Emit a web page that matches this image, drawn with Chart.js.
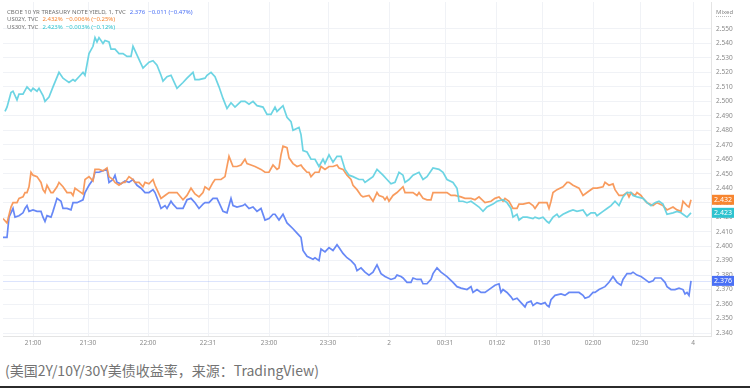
<!DOCTYPE html>
<html>
<head>
<meta charset="utf-8">
<script src="https://cdn.jsdelivr.net/npm/chart.js@4.4.1/dist/chart.umd.min.js"></script>
<style>
  html, body { margin: 0; padding: 0; background: #fff; }
  body { width: 750px; height: 388px; position: relative; overflow: hidden; }
  #wrap { position: absolute; left: 0; top: 0; width: 750px; height: 352px; }
  #caption { position: absolute; left: 5px; top: 360px; font: 14px "Noto Sans CJK SC", sans-serif; color: #737373; white-space: nowrap; line-height: 20px; }
  #bottomLine { position: absolute; left: 0; top: 386px; width: 750px; height: 2px; background: #2b2b2b; }
</style>
</head>
<body>
<div id="wrap"><canvas id="yieldChart" width="750" height="352"></canvas></div>
<div id="caption">(美国2Y/10Y/30Y美债收益率，来源：TradingView)</div>
<div id="bottomLine"></div>
<script>
// 横軸: 1分足のバー番号, 目盛り
const xTickBars = [15, 42.5, 72.5, 102.5, 133, 162.5, 193, 221, 247, 269.5, 295, 318.5, 345];
const xTickLabels = ['21:00', '21:30', '22:00', '22:31', '23:00', '23:30', '2', '00:31', '01:02', '01:30', '02:00', '02:30', '4'];
const yTicks = [2.34, 2.35, 2.36, 2.37, 2.38, 2.39, 2.40, 2.41, 2.42, 2.43, 2.44, 2.45, 2.46, 2.47, 2.48, 2.49, 2.50, 2.51, 2.52, 2.53, 2.54, 2.55];

// US10Y (CBOE 10 YR)
const us10Bars = [0,2,3,5,6,8,10,11,12,13,15,17,19,20,21,22,24,25,27,29,30,32,34,35,37,40,41,43,45,46,48,50,52,53,55,56,57,59,61,63,65,67,69,71,73,75,76,78,79,81,82,84,85,87,89,90,92,94,96,98,100,101,103,105,107,108,110,112,114,115,117,120,121,123,125,127,129,131,133,135,136,138,140,142,145,147,149,150,152,155,156,158,159,161,163,165,167,168,170,172,174,176,177,179,181,183,185,187,189,191,194,196,197,199,200,202,204,205,207,209,210,212,214,215,217,219,220,222,225,227,229,232,234,235,237,239,241,244,246,248,249,250,252,254,255,257,259,261,262,264,265,267,269,271,272,273,274,276,279,281,283,285,288,290,291,293,295,296,298,301,303,305,307,309,310,312,314,315,317,319,321,323,325,326,329,331,332,334,336,338,340,341,342,343,344];
const us10Vals = [2.406,2.406,2.420,2.426,2.420,2.421,2.423,2.426,2.428,2.424,2.425,2.424,2.424,2.420,2.417,2.421,2.420,2.424,2.433,2.431,2.426,2.426,2.425,2.430,2.430,2.432,2.437,2.442,2.446,2.451,2.451,2.452,2.453,2.444,2.446,2.449,2.444,2.443,2.445,2.444,2.446,2.442,2.440,2.437,2.437,2.439,2.437,2.430,2.426,2.428,2.426,2.431,2.429,2.426,2.426,2.426,2.432,2.433,2.430,2.426,2.429,2.430,2.430,2.433,2.433,2.430,2.424,2.423,2.433,2.428,2.427,2.428,2.429,2.426,2.427,2.424,2.426,2.418,2.419,2.422,2.422,2.418,2.422,2.416,2.412,2.409,2.406,2.397,2.393,2.391,2.392,2.390,2.398,2.396,2.399,2.397,2.401,2.399,2.395,2.392,2.390,2.387,2.383,2.385,2.382,2.380,2.382,2.387,2.381,2.379,2.377,2.378,2.380,2.379,2.378,2.375,2.375,2.378,2.377,2.377,2.374,2.374,2.377,2.381,2.385,2.382,2.381,2.379,2.375,2.372,2.371,2.370,2.372,2.368,2.370,2.368,2.368,2.371,2.373,2.374,2.368,2.370,2.368,2.365,2.363,2.364,2.361,2.358,2.361,2.362,2.359,2.361,2.360,2.361,2.359,2.358,2.363,2.366,2.367,2.366,2.368,2.368,2.368,2.366,2.364,2.365,2.368,2.368,2.370,2.372,2.375,2.379,2.375,2.373,2.377,2.381,2.381,2.382,2.380,2.379,2.377,2.375,2.376,2.378,2.378,2.375,2.372,2.370,2.370,2.371,2.370,2.367,2.368,2.366,2.376];

// US02Y
const us02Bars = [0,2,4,5,7,8,10,11,12,13,14,15,17,19,20,21,22,24,25,27,28,30,32,34,35,36,38,40,41,43,45,46,48,50,52,53,55,56,58,60,61,63,65,66,68,70,71,73,75,76,77,79,81,83,85,87,90,92,94,96,98,100,101,103,105,106,109,111,113,115,117,119,121,122,124,126,129,131,133,135,137,138,139,140,142,143,145,147,149,150,152,153,154,156,158,159,161,163,165,167,168,170,172,174,175,177,179,180,183,185,187,188,190,191,192,193,195,197,200,201,203,205,207,208,210,212,214,215,218,220,222,224,226,229,231,234,236,238,241,244,246,248,250,251,253,255,257,258,260,263,265,266,268,270,272,273,274,275,277,280,282,283,285,288,290,292,295,297,300,301,303,305,306,308,310,312,313,314,316,317,319,320,322,325,327,330,332,335,337,339,340,342,343,344];
const us02Vals = [2.419,2.416,2.427,2.430,2.430,2.433,2.434,2.437,2.437,2.441,2.451,2.449,2.448,2.444,2.439,2.437,2.442,2.437,2.437,2.441,2.444,2.441,2.437,2.437,2.435,2.440,2.438,2.436,2.446,2.448,2.445,2.453,2.453,2.452,2.454,2.448,2.446,2.444,2.442,2.444,2.444,2.448,2.446,2.444,2.444,2.441,2.444,2.443,2.446,2.442,2.439,2.433,2.435,2.437,2.437,2.437,2.432,2.435,2.440,2.436,2.434,2.437,2.441,2.439,2.444,2.446,2.446,2.448,2.462,2.455,2.455,2.456,2.460,2.457,2.456,2.455,2.453,2.451,2.451,2.456,2.453,2.454,2.463,2.469,2.468,2.461,2.457,2.455,2.456,2.454,2.451,2.451,2.448,2.451,2.451,2.455,2.453,2.455,2.455,2.456,2.454,2.453,2.449,2.446,2.442,2.439,2.435,2.434,2.435,2.431,2.437,2.435,2.434,2.432,2.434,2.431,2.435,2.437,2.441,2.437,2.437,2.437,2.435,2.437,2.433,2.432,2.432,2.437,2.437,2.437,2.437,2.435,2.435,2.434,2.433,2.433,2.432,2.434,2.430,2.431,2.433,2.434,2.431,2.433,2.431,2.426,2.426,2.429,2.429,2.430,2.428,2.426,2.430,2.430,2.430,2.426,2.431,2.437,2.439,2.441,2.444,2.444,2.442,2.440,2.435,2.437,2.440,2.440,2.441,2.444,2.442,2.443,2.439,2.435,2.435,2.437,2.434,2.437,2.435,2.437,2.435,2.433,2.430,2.428,2.430,2.428,2.425,2.427,2.425,2.424,2.431,2.428,2.427,2.432];

// US30Y
const us30Bars = [1,2,4,5,7,8,10,12,14,15,17,18,20,21,23,25,28,30,31,33,35,36,38,40,41,43,45,46,47,48,50,51,53,54,56,58,60,62,64,65,66,68,70,73,75,77,79,80,82,84,85,87,90,92,95,96,98,101,102,104,106,108,110,112,114,116,119,121,123,125,127,130,132,134,136,137,140,142,144,145,148,149,150,152,154,156,158,160,161,163,165,167,169,171,173,175,178,180,181,183,185,187,190,192,194,196,198,200,201,203,205,208,210,212,215,218,220,222,225,227,228,230,232,234,236,238,240,242,245,247,250,252,254,255,257,258,260,262,265,266,268,270,272,273,275,277,278,280,283,285,287,290,292,294,296,297,300,302,304,306,308,310,312,314,315,317,320,322,324,326,328,330,332,335,337,339,340,342,344];
const us30Vals = [2.493,2.496,2.506,2.507,2.501,2.505,2.505,2.510,2.507,2.509,2.507,2.509,2.504,2.500,2.503,2.510,2.520,2.516,2.515,2.513,2.515,2.514,2.517,2.520,2.518,2.533,2.538,2.544,2.541,2.544,2.540,2.542,2.541,2.536,2.536,2.533,2.533,2.531,2.531,2.538,2.535,2.529,2.523,2.527,2.528,2.525,2.518,2.514,2.517,2.518,2.515,2.509,2.513,2.516,2.520,2.515,2.515,2.516,2.518,2.520,2.517,2.510,2.502,2.495,2.499,2.496,2.500,2.500,2.498,2.500,2.497,2.496,2.491,2.491,2.496,2.493,2.497,2.489,2.486,2.480,2.482,2.477,2.466,2.465,2.460,2.460,2.455,2.460,2.457,2.463,2.458,2.462,2.462,2.453,2.449,2.448,2.446,2.446,2.444,2.446,2.448,2.453,2.449,2.446,2.443,2.444,2.451,2.449,2.444,2.446,2.449,2.451,2.446,2.448,2.454,2.453,2.451,2.446,2.444,2.440,2.431,2.431,2.430,2.431,2.429,2.427,2.424,2.427,2.429,2.431,2.432,2.430,2.426,2.420,2.422,2.418,2.420,2.420,2.419,2.420,2.419,2.420,2.417,2.416,2.420,2.422,2.420,2.422,2.424,2.425,2.424,2.425,2.421,2.423,2.423,2.421,2.424,2.426,2.428,2.431,2.428,2.434,2.437,2.437,2.435,2.434,2.433,2.430,2.428,2.430,2.431,2.429,2.422,2.423,2.424,2.423,2.422,2.420,2.423];

const colors = {
    us10Line: 'rgba(95, 130, 245, 0.95)', us10Box: '#4a70f5',
    us02Line: 'rgba(248, 150, 85, 0.95)', us02Box: '#f7852f',
    us30Line: 'rgba(100, 210, 225, 0.95)', us30Box: '#2ec3cf'
};

function toPoints(bars, vals) {
    return bars.map((b, i) => ({ x: b, y: vals[i] }));
}

// 左上の凡例・右端の現在値ラベルなど
const overlayPlugin = {
    id: 'overlay',
    beforeDatasetsDraw(chart) {
        const { ctx, chartArea, scales } = chart;
        const y = scales.y.getPixelForValue(us10Vals[us10Vals.length - 1]);
        ctx.save();
        ctx.strokeStyle = 'rgba(95, 130, 245, 0.22)';
        ctx.lineWidth = 1;
        ctx.beginPath();
        ctx.moveTo(chartArea.left, Math.round(y) + 0.5);
        ctx.lineTo(chartArea.right, Math.round(y) + 0.5);
        ctx.stroke();
        ctx.restore();
    },
    afterDraw(chart) {
        const { ctx, chartArea, scales } = chart;
        ctx.save();
        // 凡例
        const rows = [
            ['CBOE 10 YR TREASURY NOTE YIELD, 1, TVC', '2.376  \u22120.011 (\u22120.47%)', colors.us10Box, 12],
            ['US02Y, TVC', '2.432%  \u22120.006% (\u22120.25%)', colors.us02Box, 19.5],
            ['US30Y, TVC', '2.423%  \u22120.003% (\u22120.12%)', colors.us30Box, 27]
        ];
        ctx.font = '6px "Noto Sans", sans-serif';
        ctx.textBaseline = 'middle';
        ctx.textAlign = 'left';
        rows.forEach(([name, val, col, ty]) => {
            ctx.fillStyle = '#707070';
            ctx.fillText(name, 7, ty);
            const w = ctx.measureText(name).width;
            ctx.fillStyle = col;
            ctx.fillText(val, 7 + w + 4, ty);
        });

        // Mixed
        ctx.fillStyle = '#888';
        ctx.font = '6px "Noto Sans", sans-serif';
        ctx.fillText('Mixed', 716, 12);
        ctx.strokeStyle = '#bbb';
        ctx.setLineDash([1, 1]);
        ctx.beginPath();
        ctx.moveTo(716, 16.5);
        ctx.lineTo(732, 16.5);
        ctx.stroke();
        ctx.setLineDash([]);

        // 現在値ラベル
        const boxes = [
            [us02Vals[us02Vals.length - 1], colors.us02Box],
            [us30Vals[us30Vals.length - 1], colors.us30Box],
            [us10Vals[us10Vals.length - 1], colors.us10Box]
        ];
        ctx.font = '7px "Noto Sans", sans-serif';
        ctx.textAlign = 'center';
        boxes.forEach(([v, col]) => {
            const y = scales.y.getPixelForValue(v);
            ctx.fillStyle = col;
            ctx.fillRect(chartArea.right + 1, y - 5, 22, 10);
            ctx.fillStyle = '#fff';
            ctx.fillText(v.toFixed(3), chartArea.right + 12, y + 0.5);
        });
        ctx.restore();
    }
};

const ctx = document.getElementById('yieldChart').getContext('2d');
new Chart(ctx, {
    type: 'line',
    data: {
        datasets: [
            { label: 'US30Y', data: toPoints(us30Bars, us30Vals), borderColor: colors.us30Line },
            { label: 'US02Y', data: toPoints(us02Bars, us02Vals), borderColor: colors.us02Line },
            { label: 'US10Y', data: toPoints(us10Bars, us10Vals), borderColor: colors.us10Line }
        ]
    },
    options: {
        responsive: false,
        animation: false,
        devicePixelRatio: 1,
        layout: { padding: { left: 3, top: 2, right: 0, bottom: 0 } },
        elements: {
            line: { borderWidth: 1.7, tension: 0 },
            point: { radius: 0 }
        },
        plugins: {
            legend: { display: false },
            tooltip: { enabled: false }
        },
        scales: {
            x: {
                type: 'linear',
                min: 0,
                max: 354,
                afterBuildTicks: (s) => { s.ticks = xTickBars.map(v => ({ value: v })); },
                afterFit: (s) => { s.height = 16; s.paddingLeft = 0; s.paddingRight = 0; },
                ticks: {
                    autoSkip: false,
                    maxRotation: 0,
                    padding: 3,
                    color: '#8a8a8a',
                    font: { size: 6.5, family: 'Noto Sans' },
                    callback: (v, i) => xTickLabels[i]
                },
                grid: { color: '#f0f2f6', drawTicks: false },
                border: { color: '#e4e4e4' }
            },
            y: {
                position: 'right',
                min: 2.33793,
                max: 2.56859,
                afterBuildTicks: (s) => { s.ticks = yTicks.map(v => ({ value: v })); },
                afterFit: (s) => { s.width = 39; s.paddingTop = 0; s.paddingBottom = 0; },
                ticks: {
                    padding: 5,
                    color: '#8a8a8a',
                    font: { size: 6.5, family: 'Noto Sans' },
                    callback: (v) => Number(v).toFixed(3)
                },
                grid: { color: '#f0f2f6', drawTicks: false },
                border: { color: '#e4e4e4' }
            }
        }
    },
    plugins: [overlayPlugin]
});
</script>
</body>
</html>
